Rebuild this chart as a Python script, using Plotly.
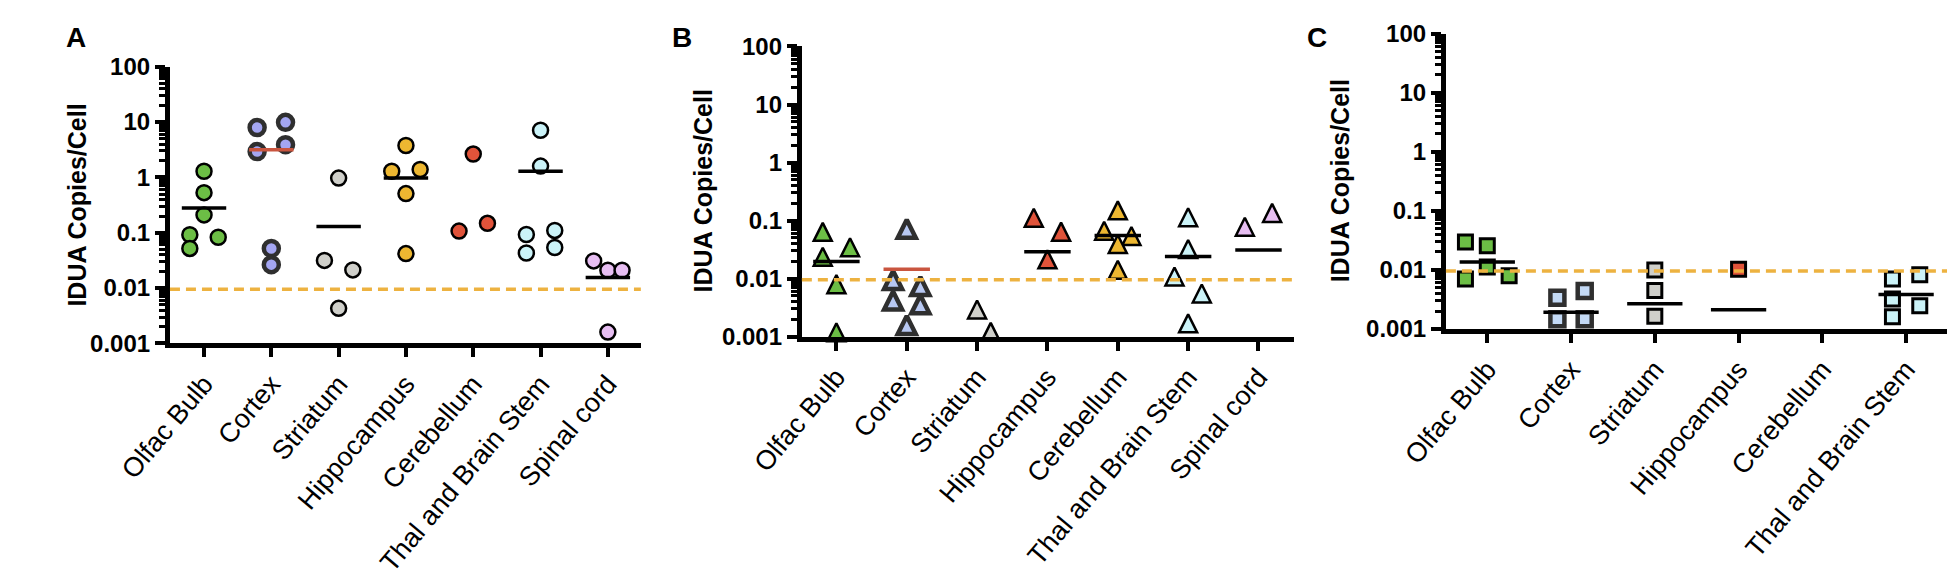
import plotly.graph_objects as go

W, H = 1955, 569
FONT = "Liberation Sans, Arial, sans-serif"

regions = ["Olfac Bulb", "Cortex", "Striatum", "Hippocampus",
           "Cerebellum", "Thal and Brain Stem", "Spinal cord"]
regions_c = regions[:6]

y_ticks = [0.001, 0.01, 0.1, 1, 10, 100]
y_ticktext = ["0.001", "0.01", "0.1", "1", "10", "100"]

# limit of detection (dashed line), copies/cell
lod = 0.0095

# panel A - IDUA copies/cell per region (circles)
a_vals = [
    [1.29, 0.53, 0.21, 0.092, 0.083, 0.052],
    [9.86, 7.96, 3.9, 2.93, 0.052, 0.0265],
    [0.97, 0.0316, 0.0213, 0.0043],
    [3.77, 1.39, 1.29, 0.51, 0.042],
    [2.64, 0.148, 0.107],
    [7.1, 1.6, 0.11, 0.093, 0.054, 0.043],
    [0.031, 0.021, 0.021, 0.0016],
]
# swarm column of each point (left/centre/right)
a_cols = [
    [0, 0, 0, -1, 1, -1],
    [1, -1, 1, -1, 0, 0],
    [0, -1, 1, 0],
    [0, 1, -1, 0, 0],
    [0, 1, -1],
    [0, 0, 1, -1, 1, -1],
    [-1, 0, 1, 0],
]
a_means = [0.28, 3.15, 0.13, 0.97, None, 1.29, 0.0155]

# panel B (triangles)
b_vals = [
    [0.0566, 0.0307, 0.0211, 0.0071, 0.00105],
    [0.064, 0.0084, 0.0066, 0.0037, 0.0032, 0.0014],
    [0.0026, 0.00107, 0.00075],
    [0.099, 0.057, 0.019],
    [0.133, 0.059, 0.048, 0.035, 0.0126],
    [0.101, 0.0286, 0.0096, 0.0049, 0.0015],
    [0.12, 0.0695],
]
b_cols = [
    [-1, 1, -1, 0, 0],
    [0, -1, 1, -1, 1, 0],
    [0, 1, -1],
    [-1, 1, 0],
    [0, -1, 1, 0, 0],
    [0, 0, -1, 1, 0],
    [1, -1],
]
b_means = [0.0197, 0.0145, None, 0.029, 0.055, 0.024, 0.031]

# panel C (squares)
c_vals = [
    [0.0295, 0.0256, 0.0111, 0.0079, 0.00695],
    [0.00436, 0.00337, 0.00145, 0.00145],
    [0.0099, 0.00446, 0.00163],
    [0.0102],
    [],
    [0.0082, 0.00695, 0.0032, 0.00245, 0.0016],
]
c_cols = [
    [-1.6, 0, 0, 1.6, -1.6],
    [1, -1, -1, 1],
    [0, 0, 0],
    [0],
    [],
    [1, -1, -1, 1, -1],
]
c_means = [0.0136, 0.0019, 0.00266, 0.0021, None, 0.0038]

GREEN, GREY, YELLOW, RED = "#6cbe45", "#cfcfca", "#edb731", "#e0533a"
CYAN, PINK = "#cbf3f8", "#e7bef2"
DARK = "#2f2f2f"
MEAN_RED = "#c9553f"

fig = go.Figure()


def add_panel(ax, vals, cols, means, fills, edge_w, marker, step, red_mean):
    xa, ya = "x" + ax, "y" + ax
    for i, (v, c) in enumerate(zip(vals, cols)):
        if not v:
            continue
        edge = DARK if i == 1 else "black"
        fig.add_trace(go.Scatter(
            x=[i + k * step for k in c], y=v, mode="markers",
            marker=dict(color=fills[i], line=dict(color=edge, width=edge_w[i]), **marker),
            xaxis=xa, yaxis=ya, cliponaxis=False, showlegend=False, hoverinfo="skip"))
    for i, m in enumerate(means):
        if m is None:
            continue
        fig.add_trace(go.Scatter(
            x=[i - 0.33, i + 0.33], y=[m, m], mode="lines",
            line=dict(color=MEAN_RED if (red_mean and i == 1) else "black", width=3.5),
            xaxis=xa, yaxis=ya, cliponaxis=False, showlegend=False, hoverinfo="skip"))
    fig.add_shape(type="line", xref=xa + " domain", x0=0, x1=1, yref=ya, y0=lod, y1=lod,
                  line=dict(color="#edb240", width=3.5, dash="10px,6px"))


add_panel("", a_vals, a_cols, a_means,
          [GREEN, "#a4a6f2", GREY, YELLOW, RED, CYAN, PINK],
          [2.5, 4.5, 2.5, 2.5, 2.5, 2.5, 2.5],
          dict(symbol="circle", size=15), 0.211, True)
add_panel("2", b_vals, b_cols, b_means,
          [GREEN, "#b8c8f2", GREY, RED, YELLOW, CYAN, PINK],
          [2.5, 4.5, 2.5, 2.5, 2.5, 2.5, 2.5],
          dict(symbol="arrow-down", angle=180, standoff=12, size=18), 0.194, True)
add_panel("3", c_vals, c_cols, c_means,
          [GREEN, "#c3d9f5", GREY, RED, YELLOW, CYAN],
          [3, 4.5, 3, 3, 3, 3],
          dict(symbol="square", size=14), 0.163, False)

minor_vals = [m * 10.0 ** e for e in range(-3, 2) for m in range(2, 10)]


def xaxis(dom, rng, labels, anchor):
    return dict(domain=[dom[0] / W, dom[1] / W], range=rng, anchor=anchor,
                tickmode="array", tickvals=list(range(len(labels))), ticktext=labels,
                tickangle=-50, ticks="outside", ticklen=9, tickwidth=4, tickcolor="black",
                showline=True, linewidth=5, linecolor="black", showgrid=False, zeroline=False,
                tickfont=dict(family=FONT, size=27, color="black"))


def yaxis(dom, anchor):
    return dict(domain=[1 - dom[1] / H, 1 - dom[0] / H], type="log", range=[-3, 2], anchor=anchor,
                tickmode="array", tickvals=y_ticks, ticktext=y_ticktext,
                ticks="outside", ticklen=10, tickwidth=3.5, tickcolor="black",
                showline=True, linewidth=5, linecolor="black", showgrid=False, zeroline=False,
                minor=dict(tickvals=minor_vals, ticks="outside", ticklen=6, tickwidth=2.5,
                           tickcolor="black", showgrid=False),
                tickfont=dict(family=FONT, size=24, color="black", weight="bold"))


fig.update_layout(
    width=W, height=H, margin=dict(l=0, r=0, t=0, b=0),
    paper_bgcolor="white", plot_bgcolor="white",
    xaxis=xaxis([112, 596], [-0.506, 6.49], regions, "y"),
    yaxis=yaxis([52, 374], "x"),
    xaxis2=xaxis([761.5, 1267], [-0.491, 6.5], regions, "y2"),
    yaxis2=yaxis([28.5, 366], "x2"),
    xaxis3=xaxis([1423.5, 1940], [-0.494, 5.505], regions_c, "y3"),
    yaxis3=yaxis([13.5, 357], "x3"),
)

# panel letters and y titles
for letter, lx in [("A", 15), ("B", 638), ("C", 1291)]:
    fig.add_annotation(text=letter, x=lx / W, y=1 - 18 / H, xref="paper", yref="paper",
                       showarrow=False, xanchor="center", yanchor="middle",
                       font=dict(family=FONT, size=28, color="black", weight="bold"))
for tx, ty in [(16, 213), (660, 197), (1315, 185)]:
    fig.add_annotation(text="IDUA Copies/Cell", x=tx / W, y=1 - ty / H, xref="paper", yref="paper",
                       showarrow=False, textangle=-90, xanchor="center", yanchor="middle",
                       font=dict(family=FONT, size=25, color="black", weight="bold"))

fig.write_html("out.html")
